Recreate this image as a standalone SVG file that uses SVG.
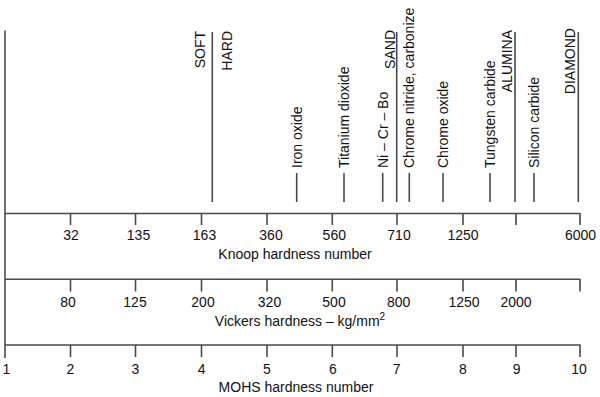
<svg xmlns="http://www.w3.org/2000/svg" width="600" height="397" viewBox="0 0 600 397">
<style>
  .ln { stroke: #4a4a4a; stroke-width: 1.6; fill: none; }
  .t { font-family: "Liberation Sans", Arial, sans-serif; font-size: 14px; fill: #111; }
  .m { text-anchor: middle; }
  .up { text-anchor: start; }
  .dn { text-anchor: end; }
</style>
<rect width="600" height="397" fill="#fff"/>

<g id="frame">
  <line class="ln" x1="5" y1="30.5" x2="5" y2="358"/>
</g>

<g id="materials">
  <g id="soft-hard">
    <line class="ln" x1="212.3" y1="32" x2="212.3" y2="202"/>
    <text class="t dn" transform="translate(205,31) rotate(-90)">SOFT</text>
    <text class="t dn" transform="translate(231.7,31) rotate(-90)">HARD</text>
  </g>
  <g id="iron-oxide">
    <line class="ln" x1="296.7" y1="173" x2="296.7" y2="202"/>
    <text class="t up" transform="translate(301.7,168) rotate(-90)">Iron oxide</text>
  </g>
  <g id="titanium-dioxide">
    <line class="ln" x1="344" y1="173" x2="344" y2="202"/>
    <text class="t up" transform="translate(349,168) rotate(-90)">Titanium dioxide</text>
  </g>
  <g id="ni-cr-bo">
    <line class="ln" x1="382.7" y1="173" x2="382.7" y2="202"/>
    <text class="t up" transform="translate(387.7,168) rotate(-90)">Ni – Cr – Bo</text>
  </g>
  <g id="sand">
    <line class="ln" x1="396.7" y1="32" x2="396.7" y2="202"/>
    <text class="t dn" transform="translate(394.8,30) rotate(-90)">SAND</text>
  </g>
  <g id="chrome-nitride">
    <line class="ln" x1="409.3" y1="173" x2="409.3" y2="202"/>
    <text class="t up" transform="translate(414.3,168) rotate(-90)">Chrome nitride, carbonize</text>
  </g>
  <g id="chrome-oxide">
    <line class="ln" x1="443" y1="173" x2="443" y2="202"/>
    <text class="t up" transform="translate(448,168) rotate(-90)">Chrome oxide</text>
  </g>
  <g id="tungsten-carbide">
    <line class="ln" x1="490" y1="173" x2="490" y2="202"/>
    <text class="t up" transform="translate(495,168) rotate(-90)">Tungsten carbide</text>
  </g>
  <g id="alumina">
    <line class="ln" x1="515" y1="32" x2="515" y2="202"/>
    <text class="t dn" transform="translate(511.7,30) rotate(-90)">ALUMINA</text>
  </g>
  <g id="silicon-carbide">
    <line class="ln" x1="534" y1="173" x2="534" y2="202"/>
    <text class="t up" transform="translate(539,168) rotate(-90)">Silicon carbide</text>
  </g>
  <g id="diamond">
    <line class="ln" x1="578.3" y1="32" x2="578.3" y2="202"/>
    <text class="t dn" transform="translate(575,28) rotate(-90)">DIAMOND</text>
  </g>
</g>

<g id="knoop-axis">
  <line class="ln" x1="5" y1="213.5" x2="580.5" y2="213.5"/>
  <path class="ln" d="M70.5 213.5V225M135.5 213.5V225M201.5 213.5V225M267 213.5V225M332.3 213.5V225M397 213.5V225M463 213.5V225M516 213.5V225M580 213.5V225"/>
  <text class="t m" x="71" y="239.5">32</text>
  <text class="t m" x="138.5" y="239.5">135</text>
  <text class="t m" x="204.5" y="239.5">163</text>
  <text class="t m" x="271" y="239.5">360</text>
  <text class="t m" x="334.3" y="239.5">560</text>
  <text class="t m" x="399" y="239.5">710</text>
  <text class="t m" x="463" y="239.5">1250</text>
  <text class="t m" x="580.5" y="239.5">6000</text>
  <text class="t m" x="295" y="259">Knoop hardness number</text>
</g>

<g id="vickers-axis">
  <line class="ln" x1="5" y1="279.3" x2="580.5" y2="279.3"/>
  <path class="ln" d="M70.5 279.3V291.5M135.5 279.3V291.5M201.5 279.3V291.5M267 279.3V291.5M332.3 279.3V291.5M397 279.3V291.5M463 279.3V291.5M516 279.3V291.5M580 279.3V291.5"/>
  <text class="t m" x="68" y="306.5">80</text>
  <text class="t m" x="135" y="306.5">125</text>
  <text class="t m" x="203" y="306.5">200</text>
  <text class="t m" x="269.5" y="306.5">320</text>
  <text class="t m" x="334" y="306.5">500</text>
  <text class="t m" x="398.7" y="306.5">800</text>
  <text class="t m" x="464" y="306.5">1250</text>
  <text class="t m" x="516" y="306.5">2000</text>
  <text class="t m" x="300" y="326">Vickers hardness – kg/mm<tspan font-size="10" dy="-6">2</tspan></text>
</g>

<g id="mohs-axis">
  <line class="ln" x1="5" y1="345" x2="580.5" y2="345"/>
  <path class="ln" d="M70.5 345V357M135.5 345V357M201.5 345V357M267 345V357M332.3 345V357M397 345V357M463 345V357M516 345V357M580 345V357"/>
  <text class="t m" x="6.5" y="373.5">1</text>
  <text class="t m" x="70.3" y="373.5">2</text>
  <text class="t m" x="135.5" y="373.5">3</text>
  <text class="t m" x="201.7" y="373.5">4</text>
  <text class="t m" x="267" y="373.5">5</text>
  <text class="t m" x="333" y="373.5">6</text>
  <text class="t m" x="396.7" y="373.5">7</text>
  <text class="t m" x="463" y="373.5">8</text>
  <text class="t m" x="516.7" y="373.5">9</text>
  <text class="t m" x="579" y="373.5">10</text>
  <text class="t m" x="296" y="391.5">MOHS hardness number</text>
</g>
</svg>
